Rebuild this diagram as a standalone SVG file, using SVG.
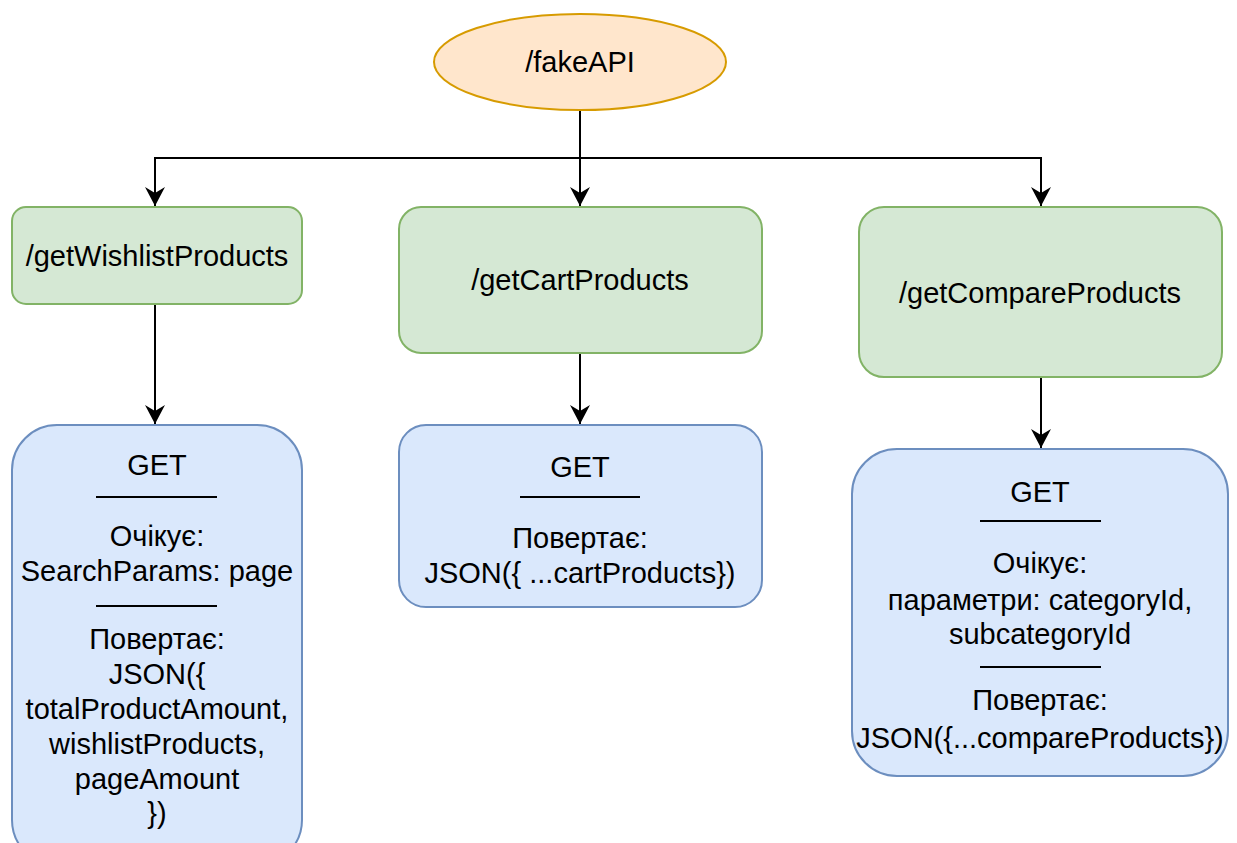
<svg xmlns="http://www.w3.org/2000/svg" width="1237" height="843" viewBox="0 0 1237 843">
  <style>
    .lbl { font-family: Arial, "Liberation Sans", sans-serif; font-size: 29px; fill: #000; text-anchor: middle; }
    .root { fill: #ffe6cc; stroke: #d79b00; stroke-width: 2; }
    .route { fill: #d5e8d4; stroke: #82b366; stroke-width: 2; }
    .method { fill: #dae8fc; stroke: #6c8ebf; stroke-width: 2; }
    .sep { stroke: #000; stroke-width: 2; }
    .edge { fill: none; stroke: #000; stroke-width: 2; }
  </style>
  <defs>
    <marker id="arrow" viewBox="0 0 20 20" refX="19" refY="10" markerWidth="20" markerHeight="20" markerUnits="userSpaceOnUse" orient="auto">
      <path d="M0,0 L19,10 L0,20 L6,10 Z" fill="#000"/>
    </marker>
  </defs>
  <rect width="1237" height="843" fill="#fff"/>

  <!-- connectors -->
  <g id="connectors">
    <path class="edge" d="M580,110 V206" marker-end="url(#arrow)"/>
    <path class="edge" d="M580,158 H155 V206" marker-end="url(#arrow)"/>
    <path class="edge" d="M580,158 H1041 V206" marker-end="url(#arrow)"/>
    <path class="edge" d="M155,304 V424" marker-end="url(#arrow)"/>
    <path class="edge" d="M580,353 V424" marker-end="url(#arrow)"/>
    <path class="edge" d="M1041,377 V448" marker-end="url(#arrow)"/>
  </g>

  <!-- root -->
  <g id="fakeAPI">
    <ellipse class="root" cx="580" cy="62" rx="146" ry="48"/>
    <text class="lbl" x="580" y="72">/fakeAPI</text>
  </g>

  <!-- routes -->
  <g id="getWishlistProducts">
    <rect class="route" x="12" y="207" width="290" height="97" rx="14"/>
    <text class="lbl" x="157" y="266">/getWishlistProducts</text>
  </g>
  <g id="getCartProducts">
    <rect class="route" x="399" y="207" width="363" height="146" rx="22"/>
    <text class="lbl" x="580" y="290">/getCartProducts</text>
  </g>
  <g id="getCompareProducts">
    <rect class="route" x="859" y="207" width="363" height="170" rx="25"/>
    <text class="lbl" x="1040" y="303">/getCompareProducts</text>
  </g>

  <!-- request/response details -->
  <g id="wishlistGet">
    <rect class="method" x="12" y="425" width="290" height="440" rx="45"/>
    <text class="lbl" x="157" y="475">GET</text>
    <line class="sep" x1="96" y1="497" x2="217" y2="497"/>
    <text class="lbl" x="157" y="546">Очікує:</text>
    <text class="lbl" x="157" y="581">SearchParams: page</text>
    <line class="sep" x1="96" y1="606" x2="217" y2="606"/>
    <text class="lbl" x="157" y="649">Повертає:</text>
    <text class="lbl" x="157" y="684">JSON({</text>
    <text class="lbl" x="157" y="719">totalProductAmount,</text>
    <text class="lbl" x="157" y="754">wishlistProducts,</text>
    <text class="lbl" x="157" y="789">pageAmount</text>
    <text class="lbl" x="157" y="823">})</text>
  </g>
  <g id="cartGet">
    <rect class="method" x="399" y="425" width="363" height="182" rx="27"/>
    <text class="lbl" x="580" y="477">GET</text>
    <line class="sep" x1="520" y1="497" x2="640" y2="497"/>
    <text class="lbl" x="580" y="548">Повертає:</text>
    <text class="lbl" x="580" y="583">JSON({ ...cartProducts})</text>
  </g>
  <g id="compareGet">
    <rect class="method" x="852" y="449" width="376" height="327" rx="45"/>
    <text class="lbl" x="1040" y="502">GET</text>
    <line class="sep" x1="980" y1="521" x2="1101" y2="521"/>
    <text class="lbl" x="1040" y="573">Очікує:</text>
    <text class="lbl" x="1040" y="610">параметри: categoryId,</text>
    <text class="lbl" x="1040" y="644">subcategoryId</text>
    <line class="sep" x1="980" y1="667" x2="1101" y2="667"/>
    <text class="lbl" x="1040" y="710">Повертає:</text>
    <text class="lbl" x="1040" y="748">JSON({...compareProducts})</text>
  </g>
</svg>
